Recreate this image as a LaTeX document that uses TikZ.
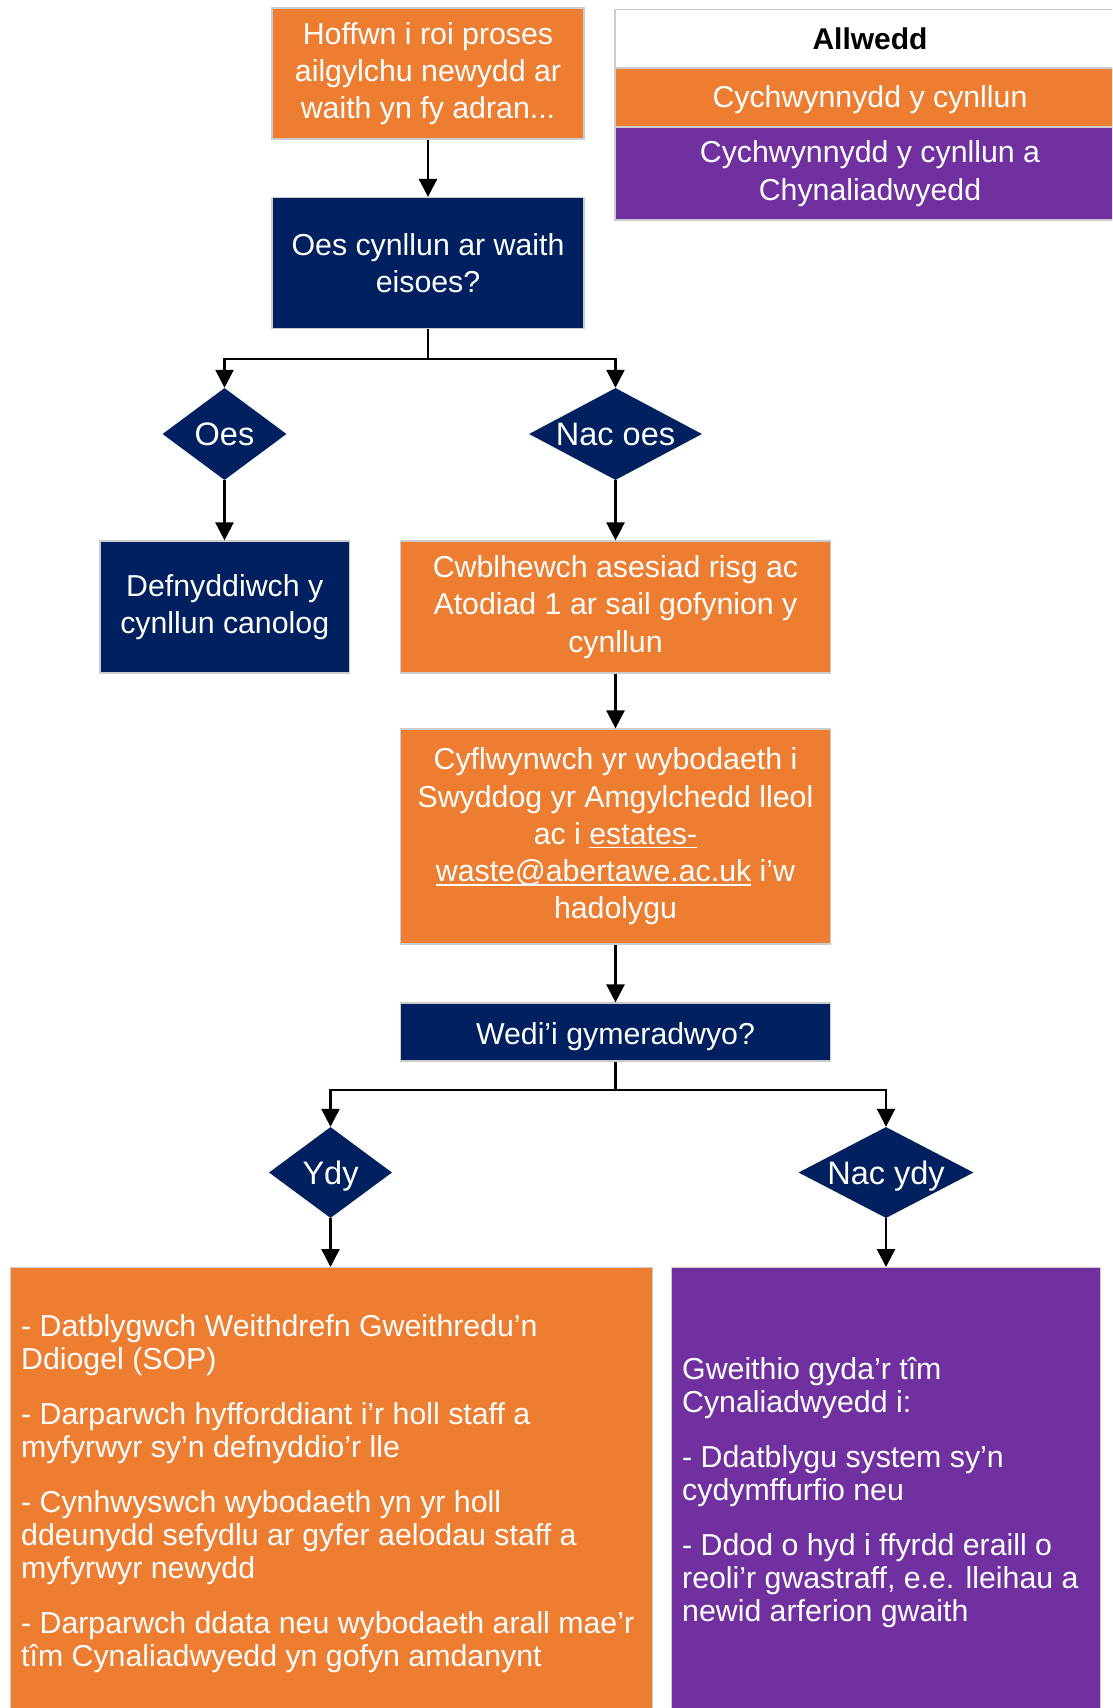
\documentclass[tikz,border=0pt]{standalone}
\usepackage{fontspec}
\setmainfont{Liberation Sans}
\usetikzlibrary{shapes.geometric, arrows.meta}
\definecolor{cOrange}{HTML}{ED7D31}
\definecolor{cNavy}{HTML}{002060}
\definecolor{cPurple}{HTML}{7030A0}
\newcommand\myul[1]{\setbox0=\hbox{#1}\rlap{\rule[-4pt]{\wd0}{1.8pt}}\box0\relax}
\begin{document}
\begin{tikzpicture}[x=1pt,y=-1pt,
  box/.style={rectangle, draw=black!20, line width=1.2pt, inner sep=0pt, align=center, text=white, font=\fontsize{30.3}{37.3}\selectfont},
  obox/.style={box, fill=cOrange},
  nbox/.style={box, fill=cNavy},
  pbox/.style={box, fill=cPurple},
  dec/.style={diamond, fill=cNavy, inner sep=0pt, text=white, text height=24pt, text depth=1pt, font=\fontsize{32.5}{36}\selectfont},
  bodytext/.style={anchor=north west, inner sep=0pt, align=left, text=white, font=\fontsize{30.3}{33}\selectfont},
  wire/.style={line width=2.5pt},
  conn/.style={line width=2.5pt, -{Triangle[width=18pt,length=18pt]}},
  ]
\clip (0,0) rectangle (1112,1708);
\fill[white] (0,0) rectangle (1112,1708);

% legend
\node[rectangle, draw=black!20, line width=1.2pt, fill=white, inner sep=0pt, minimum width=510pt, minimum height=58.5pt, font=\bfseries\fontsize{30}{36}\selectfont] (keyhead) at (870,38.75) {Allwedd};
\node[obox, minimum width=510pt, minimum height=59pt, text height=23pt, text depth=2.4pt] (keyorange) at (870,97.5) {Cychwynnydd y cynllun};
\node[pbox, minimum width=510pt, minimum height=93pt, font=\fontsize{30.3}{37.5}\selectfont] (keypurple) at (870,173.5) {Cychwynnydd y cynllun a\\Chynaliadwyedd};

% flow
\node[obox, minimum width=312pt, minimum height=131pt] (start) at (428,73.5) {Hoffwn i roi proses\\ailgylchu newydd ar\\waith yn fy adran...};
\node[nbox, minimum width=312pt, minimum height=131pt] (q1) at (428,263) {Oes cynllun ar waith\\eisoes?};
\node[dec, minimum width=124pt, minimum height=92pt, aspect=1.35] (oes) at (224.5,434) {Oes};
\node[dec, minimum width=173pt, minimum height=92pt, aspect=1.88] (no) at (615.5,434) {Nac oes};
\node[nbox, minimum width=249.5pt, minimum height=132pt] (use) at (224.75,607) {Defnyddiwch y\\cynllun canolog};
\node[obox, minimum width=429.4pt, minimum height=132pt] (risk) at (615.5,607) {Cwblhewch asesiad risg ac\\Atodiad 1 ar sail gofynion y\\cynllun};
\node[obox, minimum width=429.4pt, minimum height=215pt] (submit) at (615.5,836.5) {Cyflwynwch yr wybodaeth i\\Swyddog yr Amgylchedd lleol\\ac i \myul{estates-}\\\myul{waste@abertawe.ac.uk} i’w\\hadolygu};
\node[nbox, minimum width=429.4pt, minimum height=58pt, text height=27pt, text depth=2pt] (approved) at (615.5,1032) {Wedi’i gymeradwyo?};
\node[dec, minimum width=123pt, minimum height=91pt, aspect=1.35] (ydy) at (330.5,1172.5) {Ydy};
\node[dec, minimum width=175pt, minimum height=91pt, aspect=1.92] (nacydy) at (886,1172.5) {Nac ydy};
\node[obox, anchor=north west, minimum width=641.5pt, minimum height=460pt] (yesbox) at (10,1267) {};
\node[pbox, anchor=north west, minimum width=429pt, minimum height=460pt] (nobox) at (671,1267) {};

\node[bodytext] (yestext) at (21,1311) {\rule{0pt}{25pt}- Datblygwch Weithdrefn Gweithredu’n\\Ddiogel (SOP)\\[22pt]- Darparwch hyfforddiant i’r holl staff a\\myfyrwyr sy’n defnyddio’r lle\\[22pt]- Cynhwyswch wybodaeth yn yr holl\\ddeunydd sefydlu ar gyfer aelodau staff a\\myfyrwyr newydd\\[22pt]- Darparwch ddata neu wybodaeth arall mae’r\\tîm Cynaliadwyedd yn gofyn amdanynt};
\node[bodytext] (notext) at (682,1354) {\rule{0pt}{25pt}Gweithio gyda’r tîm\\Cynaliadwyedd i:\\[22pt]- Ddatblygu system sy’n\\cydymffurfio neu\\[22pt]- Ddod o hyd i ffyrdd eraill o\\reoli’r gwastraff, e.e. lleihau a\\newid arferion gwaith};

% connectors
\coordinate (b1) at (428,359);
\coordinate (b2) at (615.5,1090);
\draw[conn] (start.south) -- (q1.north);
\draw[wire] (q1.south) -- (b1);
\draw[conn] (b1) -| (oes.north);
\draw[conn] (b1) -| (no.north);
\draw[conn] (oes.south) -- (oes.south |- use.north);
\draw[conn] (no.south) -- (risk.north);
\draw[conn] (risk.south) -- (submit.north);
\draw[conn] (submit.south) -- (approved.north);
\draw[wire] (approved.south) -- (b2);
\draw[conn] (b2) -| (ydy.north);
\draw[conn] (b2) -| (nacydy.north);
\draw[conn] (ydy.south) -- (ydy.south |- yesbox.north);
\draw[conn] (nacydy.south) -- (nacydy.south |- nobox.north);
\end{tikzpicture}
\end{document}
